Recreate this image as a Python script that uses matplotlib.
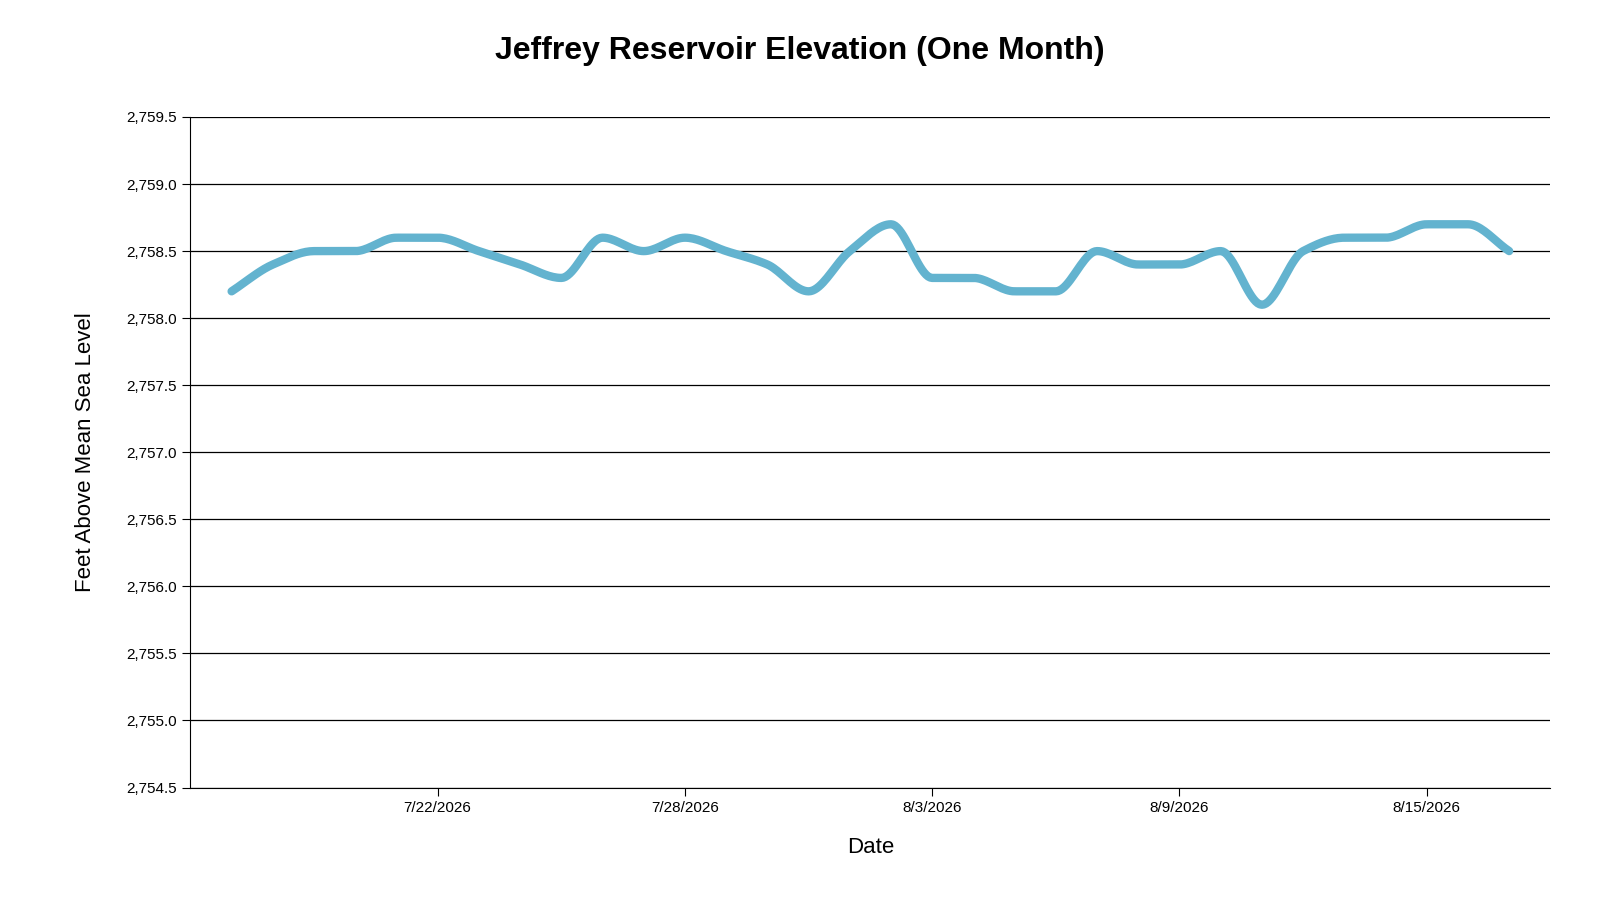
import datetime as dt

import matplotlib
matplotlib.use("Agg")
import matplotlib.pyplot as plt
import matplotlib.dates as mdates
import matplotlib.ticker as mticker
import numpy as np

plt.rcParams["font.family"] = ["Liberation Sans", "DejaVu Sans"]

START = dt.date(2026, 7, 17)
ELEVATION = [
    2758.2, 2758.4, 2758.5, 2758.5, 2758.6, 2758.6, 2758.5, 2758.4,
    2758.3, 2758.6, 2758.5, 2758.6, 2758.5, 2758.4, 2758.2, 2758.5,
    2758.7, 2758.3, 2758.3, 2758.2, 2758.2, 2758.5, 2758.4, 2758.4,
    2758.5, 2758.1, 2758.5, 2758.6, 2758.6, 2758.7, 2758.7, 2758.5,
]
TICK_DATES = ["7/22/2026", "7/28/2026", "8/3/2026", "8/9/2026", "8/15/2026"]


def monotone(x, y, n=20):
    # monotone cubic (like d3 curveMonotoneX) for drawing only
    x = np.asarray(x, float)
    y = np.asarray(y, float)
    h = np.diff(x)
    s = np.diff(y) / h
    m = np.zeros_like(y)
    for i in range(1, len(y) - 1):
        if s[i - 1] * s[i] > 0:
            m[i] = 2 / (1 / s[i - 1] + 1 / s[i])
    m[0], m[-1] = s[0], s[-1]
    xs, ys = [], []
    for i in range(len(h)):
        t = np.linspace(0, 1, n, endpoint=False)
        h00 = 2 * t**3 - 3 * t**2 + 1
        h10 = t**3 - 2 * t**2 + t
        h01 = -2 * t**3 + 3 * t**2
        h11 = t**3 - t**2
        xs.append(x[i] + t * h[i])
        ys.append(h00 * y[i] + h10 * h[i] * m[i] + h01 * y[i + 1] + h11 * h[i] * m[i + 1])
    xs.append([x[-1]])
    ys.append([y[-1]])
    return np.concatenate(xs), np.concatenate(ys)


dates = [START + dt.timedelta(days=i) for i in range(len(ELEVATION))]
xnum = mdates.date2num(dates)
sx, sy = monotone(xnum, ELEVATION)

fig = plt.figure(figsize=(16, 9), dpi=100)
ax = fig.add_axes([0.119, 0.125, 0.85, 0.745])

ax.plot(sx, sy, color="#63b3cf", linewidth=6, solid_capstyle="round")

ax.set_ylim(2754.5, 2759.5)
ax.set_yticks(np.arange(2754.5, 2759.51, 0.5))
ax.yaxis.set_major_formatter(mticker.FuncFormatter(lambda v, p: f"{v:,.1f}"))
ax.set_xlim(mdates.date2num(dt.date(2026, 7, 16)), mdates.date2num(dt.date(2026, 8, 18)))
ticks = [mdates.date2num(dt.datetime.strptime(t, "%m/%d/%Y")) for t in TICK_DATES]
ax.set_xticks(ticks)
ax.set_xticklabels(TICK_DATES)
ax.grid(axis="y", color="black", linewidth=0.9)
ax.set_axisbelow(True)
for side in ["top", "right"]:
    ax.spines[side].set_visible(False)
ax.tick_params(labelsize=11, length=6, direction="out")

ax.set_xlabel("Date", fontsize=16, labelpad=16)
ax.set_ylabel("Feet Above Mean Sea Level", fontsize=16, labelpad=22)
fig.suptitle("Jeffrey Reservoir Elevation (One Month)", fontsize=23,
             fontweight="bold", y=0.96)

fig.savefig("out.png", dpi=100)
